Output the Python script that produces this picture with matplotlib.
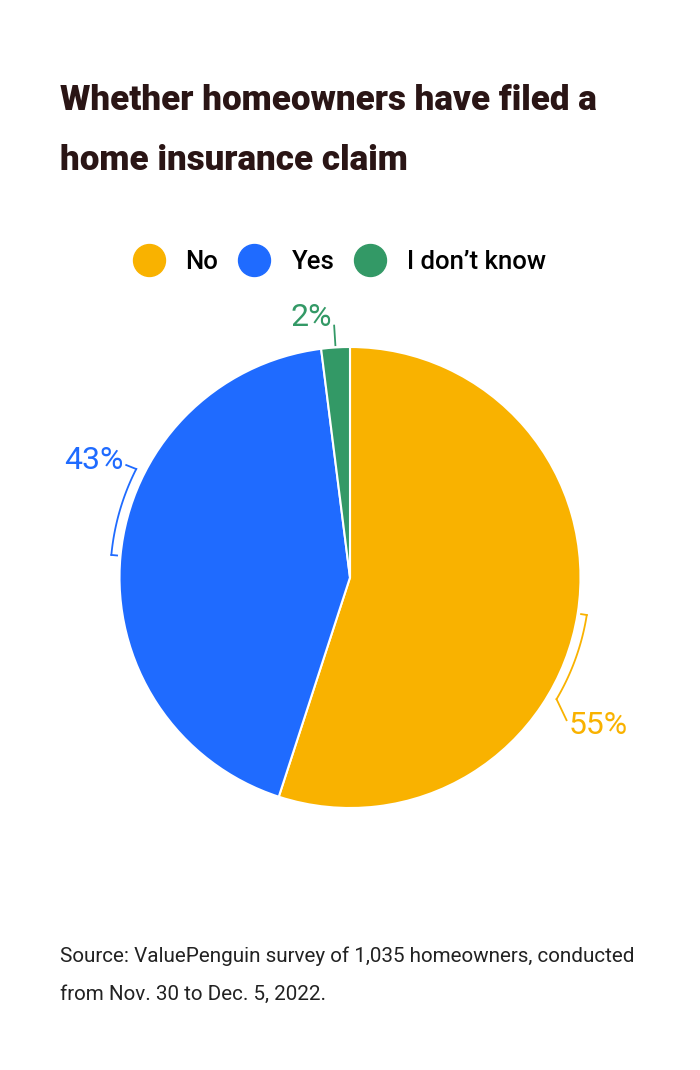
import matplotlib.pyplot as plt
import numpy as np
from matplotlib.lines import Line2D

plt.rcParams["font.family"] = ["Roboto", "DejaVu Sans"]

categories = ["No", "Yes", "I don\u2019t know"]
shares = [55, 43, 2]
colors = ["#F9B200", "#1F6BFF", "#339966"]
title_lines = ["Whether homeowners have filed a", "home insurance claim"]
source_lines = [
    "Source: ValuePenguin survey of 1,035 homeowners, conducted",
    "from Nov. 30 to Dec. 5, 2022.",
]

W, H = 700, 1070
fig = plt.figure(figsize=(W / 100, H / 100), dpi=100)

# pie axes: centre (350, 577.5) px, radius 230.5 px, limits +-1.3
R = 230.5
side = R * 2.6
ax = fig.add_axes([(350 - side / 2) / W, (H - 577.5 - side / 2) / H, side / W, side / H])

wedges, _ = ax.pie(
    shares,
    colors=colors,
    startangle=90,
    counterclock=False,
    radius=1.0,
    wedgeprops=dict(edgecolor="white", linewidth=1.5),
)
ax.set_xlim(-1.3, 1.3)
ax.set_ylim(-1.3, 1.3)
ax.set_aspect("equal")
ax.axis("off")

# callouts
r_arc = 1.04
span = 21.5
px = 1 / R
for w, s, c in zip(wedges, shares, colors):
    mid = (w.theta1 + w.theta2) / 2
    lab = f"{s}%"
    if s < 5:
        t = np.radians(mid)
        ax.plot([1.01 * np.cos(t), 1.095 * np.cos(t)], [1.01 * np.sin(t), 1.095 * np.sin(t)],
                color=c, lw=1.3)
        ax.text(1.095 * np.cos(t) - 2 * px, 1.095 * np.sin(t) + 0 * px, lab, color=c,
                fontsize=23, ha="right", va="baseline")
        continue
    a = np.radians(np.linspace(mid - span, mid, 40))
    xs = r_arc * np.cos(a)
    ys = r_arc * np.sin(a)
    tm = np.radians(mid)
    # inward tick at the mid end
    ax.plot([xs[-1], 1.015 * np.cos(tm)], [ys[-1], 1.015 * np.sin(tm)], color=c, lw=1.3)
    ax.plot(xs, ys, color=c, lw=1.3)
    x0, y0 = xs[0], ys[0]
    if x0 < 0:
        x1, y1 = x0 - 10 * px, y0 + 4 * px
        ax.plot([x0, x1], [y0, y1], color=c, lw=1.3)
        ax.text(x1 - 3 * px, y1 - 4 * px, lab, color=c, fontsize=23, ha="right", va="baseline")
    else:
        x1, y1 = x0 + 10 * px, y0 - 21 * px
        ax.plot([x0, x1], [y0, y1], color=c, lw=1.3)
        ax.text(x1 + 2 * px, y1 - 5 * px, lab, color=c, fontsize=23, ha="left", va="center")

# legend
handles = [Line2D([], [], marker="o", ls="none", markersize=23, markerfacecolor=c,
                  markeredgecolor=c) for c in colors]
fig.legend(handles, categories, loc="center", bbox_to_anchor=(341 / W, 1 - 262 / H),
           ncol=3, frameon=False, prop=dict(size=18.5, weight="medium"), handlelength=1.0,
           handletextpad=0.94, columnspacing=0.9, borderpad=0, borderaxespad=0)

# title
for i, line in enumerate(title_lines):
    fig.text(60 / W, 1 - (110 + 60 * i) / H, line, fontsize=25.2, fontweight="black",
             color="#2A1515", ha="left", va="baseline")

# source
for i, line in enumerate(source_lines):
    fig.text(60 / W, 1 - (962 + 38 * i) / H, line, fontsize=14.9, color="#222222",
             ha="left", va="baseline")

fig.savefig("out.png", dpi=100, facecolor="white")
